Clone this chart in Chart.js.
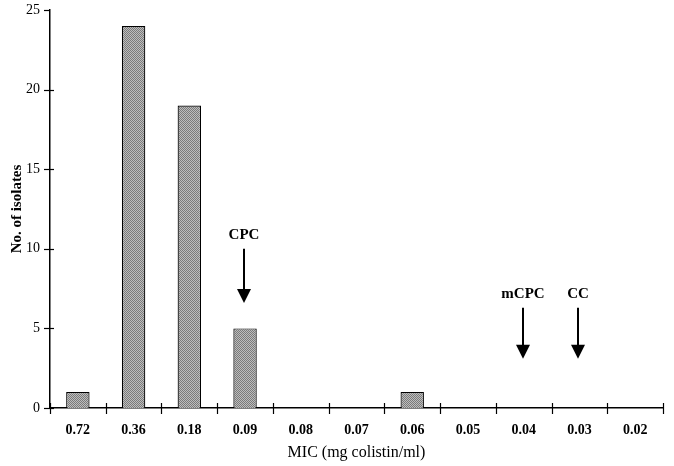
<!DOCTYPE html>
<html>
<head>
<meta charset="utf-8">
<script src="https://cdn.jsdelivr.net/npm/chart.js@4"></script>
<style>
  html, body { margin: 0; padding: 0; background: #fff; }
  #wrap { width: 674px; height: 466px; }
</style>
</head>
<body>
<div id="wrap"><canvas id="myChart" width="674" height="466"></canvas></div>
<script>
// data
const mics = ['0.72', '0.36', '0.18', '0.09', '0.08', '0.07', '0.06', '0.05', '0.04', '0.03', '0.02']
const isolates = [1, 24, 19, 5, 0, 0, 1, 0, 0, 0, 0]
const yTicks = [0, 5, 10, 15, 20, 25]

// breakpoint arrows (label, category, arrow top, arrow tip in y units)
const markerLabels = ['CPC', 'mCPC', 'CC']
const markerAt = ['0.09', '0.04', '0.03']
const markerTop = [10, 6.3, 6.3]
const markerTip = [6.6, 3.1, 3.1]

const serif = '"Liberation Serif", "DejaVu Serif", serif'

// stippled grey like the printed bars
function stipple() {
  const c = document.createElement('canvas')
  c.width = 2; c.height = 2
  const g = c.getContext('2d')
  g.fillStyle = '#bdbdbd'; g.fillRect(0, 0, 2, 2)
  g.fillStyle = '#7a7a7a'; g.fillRect(0, 0, 1, 1); g.fillRect(1, 1, 1, 1)
  return g.createPattern(c, 'repeat')
}

const extras = {
  id: 'extras',
  afterDraw(chart) {
    const ctx = chart.ctx
    const x = chart.scales.x, y = chart.scales.y
    const step = x.getPixelForValue(1) - x.getPixelForValue(0)
    ctx.save()
    ctx.strokeStyle = '#000'
    ctx.lineWidth = 1.2
    // x tick marks crossing the axis at category boundaries
    for (let i = 0; i <= mics.length; i++) {
      const px = Math.round(x.getPixelForValue(0) - step / 2 + i * step) + 0.5
      ctx.beginPath()
      ctx.moveTo(px, y.bottom - 5)
      ctx.lineTo(px, y.bottom + 6)
      ctx.stroke()
    }
    // y tick marks
    yTicks.forEach(v => {
      const py = Math.round(y.getPixelForValue(v)) + 0.5
      ctx.beginPath()
      ctx.moveTo(x.left - 6, py)
      ctx.lineTo(x.left + (v === 25 ? 0 : 4), py)
      ctx.stroke()
    })
    // arrows
    ctx.fillStyle = '#000'
    ctx.font = 'bold 15px ' + serif
    ctx.textAlign = 'center'
    ctx.textBaseline = 'bottom'
    markerLabels.forEach((lab, i) => {
      const px = Math.round(x.getPixelForValue(mics.indexOf(markerAt[i])) - 1)
      const top = y.getPixelForValue(markerTop[i])
      const tip = y.getPixelForValue(markerTip[i])
      ctx.fillText(lab, px, top - 6)
      ctx.lineWidth = 2
      ctx.beginPath()
      ctx.moveTo(px, top)
      ctx.lineTo(px, tip - 10)
      ctx.stroke()
      ctx.beginPath()
      ctx.moveTo(px - 7, tip - 14)
      ctx.lineTo(px + 7, tip - 14)
      ctx.lineTo(px, tip)
      ctx.closePath()
      ctx.fill()
    })
    ctx.restore()
  }
}

const chart = new Chart('myChart', {
  type: 'bar',
  data: {
    labels: mics,
    datasets: [{
      data: isolates,
      backgroundColor: stipple(),
      borderColor: '#000',
      borderWidth: 1.2,
      borderSkipped: 'bottom',
      barPercentage: 0.42,
      categoryPercentage: 1
    }]
  },
  options: {
    responsive: false,
    animation: false,
    layout: { padding: { top: 10, right: 11, left: 8, bottom: 0 } },
    plugins: { legend: { display: false }, tooltip: { enabled: false } },
    scales: {
      x: {
        grid: { display: false, drawTicks: false },
        border: { display: true, color: '#000', width: 1.5 },
        ticks: { color: '#000', padding: 14, maxRotation: 0, font: { family: serif, size: 14, weight: 'bold' } },
        title: { display: true, text: 'MIC (mg colistin/ml)', color: '#000', padding: { top: 2, bottom: 4 }, font: { family: serif, size: 16 } },
        afterFit: s => { s.height = 58; s.paddingLeft = 0; s.paddingRight = 0 }
      },
      y: {
        min: 0,
        max: 25,
        afterBuildTicks: s => { s.ticks = yTicks.map(v => ({ value: v })) },
        grid: { display: false, drawTicks: false },
        border: { display: true, color: '#000', width: 1.5 },
        ticks: { color: '#000', padding: 10, font: { family: serif, size: 14 } },
        title: { display: true, text: 'No. of isolates', color: '#000', padding: 0, font: { family: serif, size: 15, weight: 'bold' } },
        afterFit: s => { s.width = 42; s.paddingTop = 0; s.paddingBottom = 0 }
      }
    }
  },
  plugins: [extras]
})
</script>
</body>
</html>
